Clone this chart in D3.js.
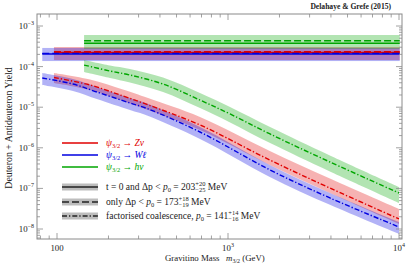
<!DOCTYPE html>
<html>
<head>
<meta charset="utf-8">
<script src="https://cdn.jsdelivr.net/npm/d3@7"></script>
<style>
  body { margin: 0; background: #fff; }
  svg text { font-family: "Liberation Serif", "Times New Roman", serif; white-space: pre; }
</style>
</head>
<body>
<div id="vis"></div>
<script>
// values
var channels = ["Z", "W", "h"];
var colors = { Z: "#e00000", W: "#0000e0", h: "#00a600" };

// dash-dot curves (factorised coalescence)
var massZ = [96, 156, 243, 341, 686, 1756, 3945, 10000];
var yieldZ = [5.40e-5, 3.52e-5, 1.89e-5, 1.14e-5, 3.65e-6, 5.01e-7, 1.02e-7, 1.77e-8];
var yieldZhi = [6.97e-5, 4.81e-5, 2.73e-5, 1.68e-5, 5.74e-6, 8.36e-7, 1.75e-7, 3.11e-8];
var yieldZlo = [3.95e-5, 2.65e-5, 1.42e-5, 8.5e-6, 2.75e-6, 3.78e-7, 7.71e-8, 1.33e-8];

var massW = [82, 124, 171, 267, 336, 686, 1756, 3945, 10000];
var yieldW = [5.24e-5, 3.72e-5, 2.37e-5, 1.27e-5, 9.3e-6, 2.45e-6, 2.86e-7, 5.83e-8, 1.12e-8];
var yieldWhi = [6.95e-5, 4.94e-5, 3.14e-5, 1.68e-5, 1.23e-5, 3.25e-6, 3.79e-7, 7.74e-8, 1.49e-8];
var yieldWlo = [3.52e-5, 2.51e-5, 1.59e-5, 8.53e-6, 6.25e-6, 1.65e-6, 1.92e-7, 3.93e-8, 7.55e-9];

var massH = [144, 204, 267, 417, 686, 1028, 1762, 3945, 10000];
var yieldH = [1.09e-4, 7.80e-5, 6.21e-5, 3.72e-5, 1.50e-5, 6.81e-6, 2.19e-6, 4.47e-7, 7.71e-8];
var yieldHhi = [1.45e-4, 1.06e-4, 8.73e-5, 5.38e-5, 2.23e-5, 1.01e-5, 3.25e-6, 6.46e-7, 1.08e-7];
var yieldHlo = [7.36e-5, 5.25e-5, 4.06e-5, 2.37e-5, 9.55e-6, 4.21e-6, 1.31e-6, 2.61e-7, 4.38e-8];

// flat curves (t = 0 and dp < p0 solid, only dp < p0 dashed)
var flatStart = { Z: 96, W: 82, h: 144 };
var flatEnd = 10100;
var flatSolid = { Z: 2.24e-4, W: 2.05e-4, h: 3.78e-4 };
var flatDashed = { Z: 2.32e-4, W: 2.12e-4, h: 4.34e-4 };
var flatHi = { Z: 3.04e-4, W: 2.88e-4, h: 6.0e-4 };
var flatLo = { Z: 1.45e-4, W: 1.37e-4, h: 2.71e-4 };

var xMajor = [100, 1000, 10000];
var yMajor = [1e-3, 1e-4, 1e-5, 1e-6, 1e-7, 1e-8];
var xTickLabels = [["100", ""], ["10", "3"], ["10", "4"]];
var yTickLabels = [["10", "\u22123"], ["10", "\u22124"], ["10", "\u22125"], ["10", "\u22126"], ["10", "\u22127"], ["10", "\u22128"]];

var curves = {
  Z: { m: massZ, v: yieldZ, hi: yieldZhi, lo: yieldZlo },
  W: { m: massW, v: yieldW, hi: yieldWhi, lo: yieldWlo },
  h: { m: massH, v: yieldH, hi: yieldHhi, lo: yieldHlo }
};

var w = 407;
var h = 272;
var pLeft = 37, pRight = 402, pTop = 14, pBottom = 239;

var svg = d3.select("#vis").append("svg").attr("width", w).attr("height", h)
  .attr("font-family", "Liberation Serif, Times New Roman, serif");

var x = d3.scaleLog().domain([100, 1e4]).range([57, 399]);
var y = d3.scaleLog().domain([1e-8, 1e-3]).range([229, 26]);

svg.append("clipPath").attr("id", "clip")
  .append("rect").attr("x", pLeft).attr("y", pTop).attr("width", pRight - pLeft).attr("height", pBottom - pTop);

var plot = svg.append("g").attr("clip-path", "url(#clip)");

var dashDot = "5,2,1.3,2";
var dashed = "7,3";
var smooth = d3.curveCatmullRom.alpha(0.5);

// bands
channels.forEach(function (c) {
  plot.append("rect")
    .attr("x", x(flatStart[c]))
    .attr("y", y(flatHi[c]))
    .attr("width", x(flatEnd) - x(flatStart[c]))
    .attr("height", y(flatLo[c]) - y(flatHi[c]))
    .attr("fill", colors[c])
    .attr("opacity", 0.3);
});
channels.forEach(function (c) {
  var d = curves[c];
  var pts = d.m.map(function (m, i) { return { m: m, hi: d.hi[i], lo: d.lo[i] }; });
  var area = d3.area()
    .x(function (p) { return x(p.m); })
    .y0(function (p) { return y(p.lo); })
    .y1(function (p) { return y(p.hi); })
    .curve(smooth);
  plot.append("path").attr("d", area(pts)).attr("fill", colors[c]).attr("opacity", 0.3);
});

// lines
channels.forEach(function (c) {
  plot.append("line")
    .attr("x1", x(flatStart[c])).attr("x2", x(flatEnd))
    .attr("y1", y(flatSolid[c])).attr("y2", y(flatSolid[c]))
    .attr("stroke", colors[c]).attr("stroke-width", 1.5);
  plot.append("line")
    .attr("x1", x(flatStart[c])).attr("x2", x(flatEnd))
    .attr("y1", y(flatDashed[c])).attr("y2", y(flatDashed[c]))
    .attr("stroke", colors[c]).attr("stroke-width", 1.4)
    .attr("stroke-dasharray", dashed);
});
channels.forEach(function (c) {
  var d = curves[c];
  var pts = d.m.map(function (m, i) { return { m: m, v: d.v[i] }; });
  var line = d3.line()
    .x(function (p) { return x(p.m); })
    .y(function (p) { return y(p.v); })
    .curve(smooth);
  plot.append("path").attr("d", line(pts)).attr("fill", "none")
    .attr("stroke", colors[c]).attr("stroke-width", 1.4)
    .attr("stroke-dasharray", dashDot);
});

// frame and ticks
var frameColor = "#8a8a8a";
svg.append("rect").attr("x", pLeft).attr("y", pTop).attr("width", pRight - pLeft).attr("height", pBottom - pTop)
  .attr("fill", "none").attr("stroke", frameColor).attr("stroke-width", 1);

var xMinor = [];
[10, 100, 1000, 10000].forEach(function (d) {
  for (var k = 2; k <= 9; k++) xMinor.push(k * d);
});
xMinor = xMinor.filter(function (v) { return x(v) > pLeft && x(v) < pRight; });
var yMinor = [];
[1e-9, 1e-8, 1e-7, 1e-6, 1e-5, 1e-4, 1e-3].forEach(function (d) {
  for (var k = 2; k <= 9; k++) yMinor.push(k * d);
});
yMinor = yMinor.filter(function (v) { return y(v) > pTop && y(v) < pBottom; });

var ticks = svg.append("g").attr("stroke", frameColor).attr("stroke-width", 0.8);
function xTick(v, len) {
  ticks.append("line").attr("x1", x(v)).attr("x2", x(v)).attr("y1", pBottom).attr("y2", pBottom - len);
  ticks.append("line").attr("x1", x(v)).attr("x2", x(v)).attr("y1", pTop).attr("y2", pTop + len);
}
function yTick(v, len) {
  ticks.append("line").attr("y1", y(v)).attr("y2", y(v)).attr("x1", pLeft).attr("x2", pLeft + len);
  ticks.append("line").attr("y1", y(v)).attr("y2", y(v)).attr("x1", pRight).attr("x2", pRight - len);
}
xMajor.forEach(function (v) { xTick(v, 6); });
xMinor.forEach(function (v) { xTick(v, 3.5); });
yMajor.forEach(function (v) { yTick(v, 6); });
yMinor.forEach(function (v) { yTick(v, 3); });

// tick labels
xMajor.forEach(function (v, i) {
  var t = svg.append("text").attr("x", x(v)).attr("y", 251).attr("text-anchor", "middle")
    .attr("font-size", 8.8).attr("fill", "#222");
  t.append("tspan").text(xTickLabels[i][0]);
  if (xTickLabels[i][1]) t.append("tspan").attr("dy", -4).attr("font-size", 6).text(xTickLabels[i][1]);
});
yMajor.forEach(function (v, i) {
  var t = svg.append("text").attr("x", 34).attr("y", y(v) + 3).attr("text-anchor", "end")
    .attr("font-size", 8.8).attr("fill", "#222");
  t.append("tspan").text(yTickLabels[i][0]);
  t.append("tspan").attr("dy", -4).attr("font-size", 6).text(yTickLabels[i][1]);
});

// rich text helper: parts laid out one after another
function rich(x0, y0, size, color, parts) {
  var cx = x0;
  parts.forEach(function (p) {
    if (p.stack) {
      var a = svg.append("text").attr("x", cx).attr("y", y0 - 3.6).attr("font-size", size * 0.68)
        .attr("fill", color).text(p.stack[0]);
      var b = svg.append("text").attr("x", cx).attr("y", y0 + 2.4).attr("font-size", size * 0.68)
        .attr("fill", color).text(p.stack[1]);
      cx += Math.max(a.node().getComputedTextLength(), b.node().getComputedTextLength());
      return;
    }
    var fs = p.sub ? size * 0.68 : size;
    var t = svg.append("text").attr("x", cx).attr("y", y0 + (p.sub ? 2.2 : 0))
      .attr("font-size", fs).attr("fill", color)
      .attr("font-style", p.i ? "italic" : "normal").text(p.t);
    cx += t.node().getComputedTextLength();
  });
}

// titles
svg.append("text").attr("x", 391).attr("y", 9).attr("text-anchor", "end")
  .attr("font-size", 7.6).attr("font-weight", "bold").attr("fill", "#222")
  .text("Delahaye & Grefe (2015)");

svg.append("text").attr("transform", "translate(12,128) rotate(-90)")
  .attr("text-anchor", "middle").attr("font-size", 9.8).attr("fill", "#222")
  .text("Deuteron + Antideuteron Yield");

rich(165, 261, 8.8, "#222", [
  { t: "Gravitino Mass   " }, { t: "m", i: true }, { t: "3/2", sub: true }, { t: " (GeV)" }
]);

// legend
var legX1 = 62, legX2 = 98, legText = 106;
var decayLabels = { Z: "Z\u03bd", W: "W\u2113", h: "h\u03bd" };
var legRowsColor = [143, 155, 167];
channels.forEach(function (c, i) {
  var ly = legRowsColor[i];
  svg.append("line").attr("x1", legX1).attr("x2", legX2).attr("y1", ly).attr("y2", ly)
    .attr("stroke", colors[c]).attr("stroke-width", 1.3);
  rich(legText, ly + 3, 9.5, colors[c], [
    { t: "\u03c8", i: true }, { t: "3/2", sub: true }, { t: " \u2192 " }, { t: decayLabels[c], i: true }
  ]);
});

var styleRows = [
  { y: 187, dash: null, pre: "t = 0 and \u0394p < ", val: " = 203", err: ["+20", "\u221225"] },
  { y: 202, dash: dashed, pre: "only \u0394p < ", val: " = 173", err: ["+18", "\u221219"] },
  { y: 216, dash: dashDot, pre: "factorised coalescence, ", val: " = 141", err: ["+14", "\u221216"] }
];
styleRows.forEach(function (r) {
  svg.append("rect").attr("x", legX1).attr("y", r.y - 3.5).attr("width", legX2 - legX1).attr("height", 7)
    .attr("fill", "#bdbdbd");
  svg.append("line").attr("x1", legX1).attr("x2", legX2).attr("y1", r.y).attr("y2", r.y)
    .attr("stroke", "#222").attr("stroke-width", 1.5)
    .attr("stroke-dasharray", r.dash);
  rich(legText, r.y + 3, 9.5, "#222", [
    { t: r.pre }, { t: "p", i: true }, { t: "0", sub: true }, { t: r.val }, { stack: r.err }, { t: " MeV" }
  ]);
});
</script>
</body>
</html>
